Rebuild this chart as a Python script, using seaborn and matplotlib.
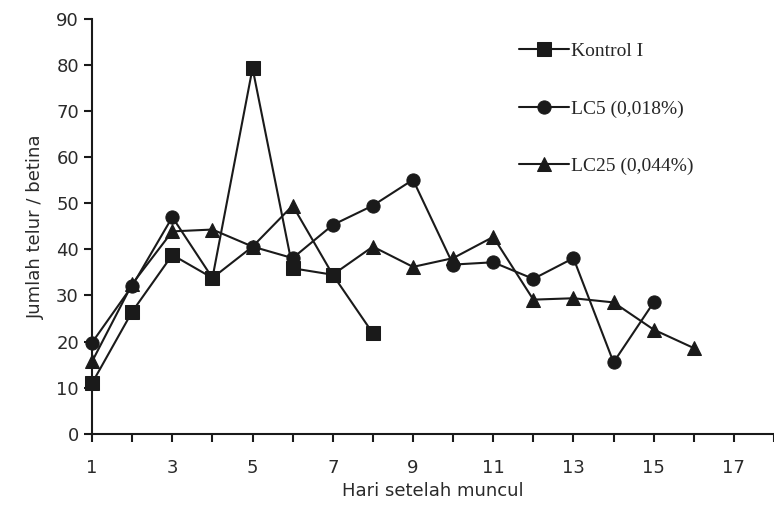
import matplotlib
matplotlib.use('Agg')
import matplotlib.pyplot as plt
import seaborn as sns
import pandas as pd

# days after emergence and eggs per female for each treatment
days_kontrol = [1, 2, 3, 4, 5, 6, 7, 8]
kontrol = [11.0, 26.5, 38.8, 33.8, 79.3, 35.9, 34.5, 21.8]

days_lc5 = [1, 2, 3, 4, 5, 6, 7, 8, 9, 10, 11, 12, 13, 14, 15]
lc5 = [19.8, 32.1, 47.0, 33.8, 40.6, 38.1, 45.3, 49.5, 55.1, 36.7, 37.2, 33.6, 38.1, 15.5, 28.5]

days_lc25 = [1, 2, 3, 4, 5, 6, 7, 8, 9, 10, 11, 12, 13, 14, 15, 16]
lc25 = [15.7, 32.5, 43.9, 44.3, 40.6, 49.5, 34.5, 40.6, 36.2, 38.1, 42.7, 29.1, 29.4, 28.5, 22.6, 18.6]

labels = ['Kontrol I', 'LC5 (0,018%)', 'LC25 (0,044%)']
markers = ['s', 'o', '^']

df = pd.concat([
    pd.DataFrame({'hari': days_kontrol, 'telur': kontrol, 'grup': labels[0]}),
    pd.DataFrame({'hari': days_lc5, 'telur': lc5, 'grup': labels[1]}),
    pd.DataFrame({'hari': days_lc25, 'telur': lc25, 'grup': labels[2]}),
])

sns.set_style('ticks')
plt.rcParams['font.family'] = ['DejaVu Sans']

fig = plt.figure(figsize=(7.74, 5.08), dpi=100)
ax = fig.add_axes([0.119, 0.146, 0.881, 0.817])

for lab, mk in zip(labels, markers):
    sub = df[df['grup'] == lab]
    sns.lineplot(x='hari', y='telur', data=sub, ax=ax, color='#1a1a1a', marker=mk,
                 markersize=9.5, linewidth=1.5, markeredgecolor='#1a1a1a',
                 label=lab, clip_on=False)

ax.set_xlim(1, 18)
ax.set_ylim(0, 90)
ax.set_xticks(range(1, 19))
ax.set_xticklabels([str(d) if d % 2 == 1 else '' for d in range(1, 19)])
ax.set_yticks(range(0, 91, 10))
ax.tick_params(axis='both', labelsize=13, length=6, width=1.5, colors='#1a1a1a',
               labelcolor='#2a2a2a')
ax.tick_params(axis='x', pad=12)
ax.set_xlabel('Hari setelah muncul', fontsize=13, color='#2a2a2a', labelpad=4)
ax.set_ylabel('Jumlah telur / betina', fontsize=13, color='#2a2a2a', labelpad=8)
for side in ['top', 'right']:
    ax.spines[side].set_visible(False)
for side in ['left', 'bottom']:
    ax.spines[side].set_linewidth(1.5)
    ax.spines[side].set_color('#1a1a1a')

ax.legend(loc='upper left', bbox_to_anchor=(0.6, 0.985), frameon=False,
          prop={'family': 'Liberation Serif', 'size': 14}, labelspacing=2.05,
          handlelength=2.6, handletextpad=0.1)

fig.savefig('out.png', dpi=100)
